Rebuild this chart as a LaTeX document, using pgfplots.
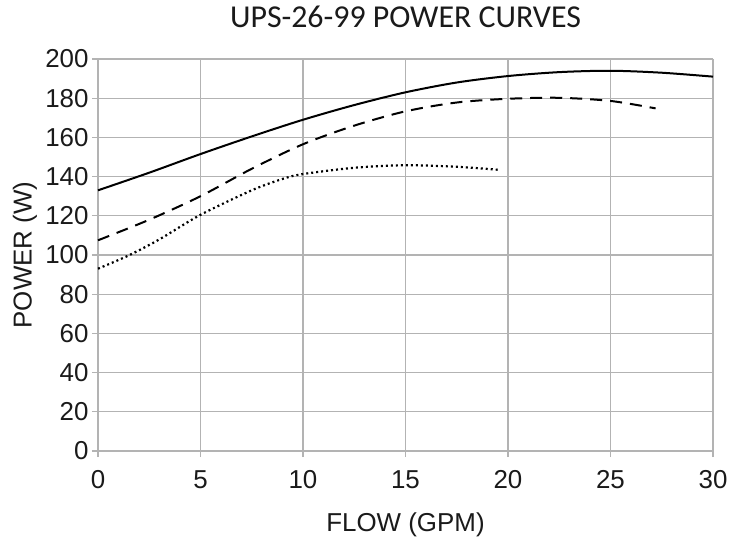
\documentclass[border=0pt]{standalone}
\usepackage{fontspec}
\setmainfont{Liberation Sans}
\newfontfamily\titlefont{Carlito}
\usepackage{pgfplots}
\pgfplotsset{compat=1.18}
\definecolor{gridgray}{HTML}{B3B3B3}
\definecolor{txt}{HTML}{1A1A1A}

\begin{document}
\begin{tikzpicture}
\useasboundingbox (-98bp,-91bp) rectangle (631bp,451bp);
\begin{axis}[
  at={(0,0)}, anchor=south west,
  scale only axis,
  width=615bp, height=392bp,
  xmin=0, xmax=30, ymin=0, ymax=200,
  xtick={0,5,...,30}, ytick={0,20,...,200},
  grid=major,
  major grid style={gridgray, line width=1.2bp},
  axis line style={gridgray, line width=1.2bp},
  axis lines=left,
  x axis line style={-}, y axis line style={-},
  tick align=outside,
  major tick length=6bp,
  tick style={gridgray, line width=1.2bp},
  /pgf/number format/assume math mode=true,
  tick label style={font=\fontsize{26}{30}\selectfont, text=txt},
  xticklabel style={yshift=-10bp},
  label style={font=\fontsize{26}{30}\selectfont, text=txt},
  title={UPS-26-99 POWER CURVES},
  title style={font=\titlefont\fontsize{32}{36}\selectfont, text=txt,
    at={(0.5,1)}, anchor=center, yshift=36bp},
  xlabel={FLOW (GPM)},
  ylabel={POWER (W)},
  xlabel style={at={(0.5,0)}, anchor=center, yshift=-74bp},
  ylabel style={at={(0,0.5)}, anchor=center, yshift=73bp},
  clip=false,
]
\addplot[black, line width=2bp, smooth] coordinates {
  (0,133) (2.5,142) (5,151.5) (7.5,160.5) (10,169) (12.5,176.5) (15,183)
  (17.5,188) (20,191.3) (22.5,193.3) (25,194) (27.5,193) (30,191)};
\addplot[black, line width=2bp, smooth, dash pattern=on 12bp off 8bp] coordinates {
  (0,107.5) (2.5,118) (5,130) (7.5,144) (10,156.5) (12.5,166) (15,173.3)
  (17.5,177.8) (20,179.7) (22.5,180.2) (25,178.6) (27.2,174.8)};
\addplot[black, line width=2.2bp, smooth, dash pattern=on 2bp off 3bp] coordinates {
  (0,93) (1.5,99.8) (3,108) (5,120.5) (7.5,133) (9,138.8) (10,141.3)
  (12.5,144.5) (15,145.8) (17.5,145) (19.5,143.5)};
\end{axis}
\end{tikzpicture}
\end{document}
